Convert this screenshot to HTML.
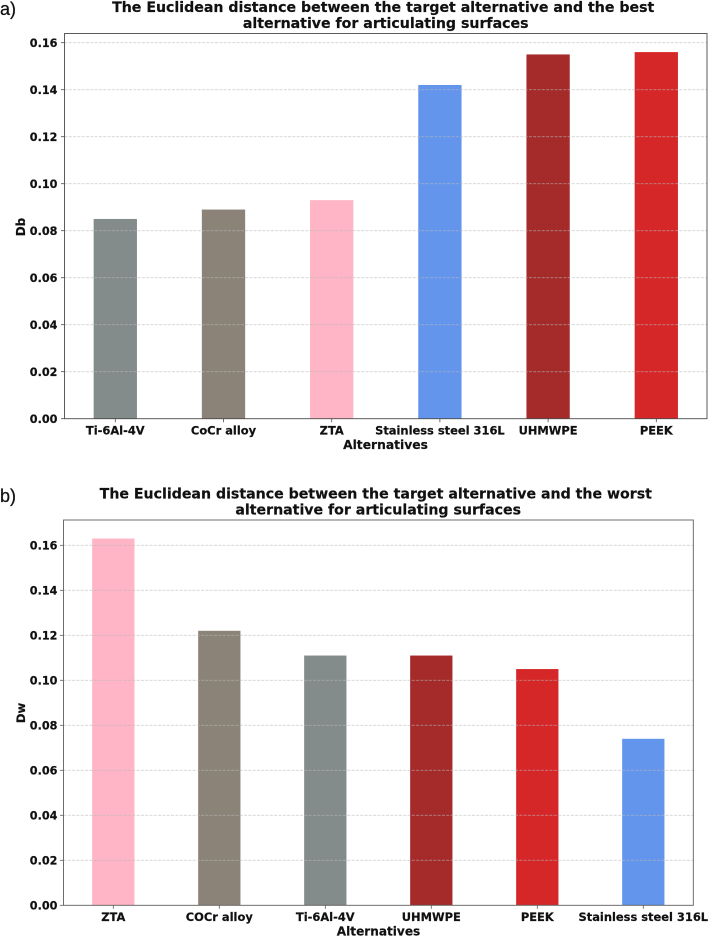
<!DOCTYPE html>
<html lang="en">
<head>
<meta charset="utf-8">
<title>Euclidean distance charts</title>
<style>
  html, body { margin: 0; padding: 0; background: #ffffff; }
  svg { display: block; font-family: "DejaVu Sans", "Liberation Sans", sans-serif; }
  .bold { font-weight: 700; fill: #111111; stroke: #111111; stroke-width: 0.2px; }
  .panel { font-family: "Liberation Sans", sans-serif; font-size: 18px; fill: #111111; stroke: #111111; stroke-width: 0.25px; }
</style>
</head>
<body>
<svg id="figure" width="708" height="937" viewBox="0 0 708 937" xmlns="http://www.w3.org/2000/svg">
  <text class="panel" x="0" y="15">a)</text>
  <text class="bold" x="383.200" y="12" text-anchor="middle" font-size="14.15">The Euclidean distance between the target alternative and the best</text>
  <text class="bold" x="385.700" y="28" text-anchor="middle" font-size="14.15">alternative for articulating surfaces</text>
  <text class="bold" transform="translate(25 227) rotate(-90)" text-anchor="middle" font-size="12">Db</text>
  <text class="bold" x="385.500" y="449" text-anchor="middle" font-size="12.3">Alternatives</text>

  <text class="panel" x="0" y="502">b)</text>
  <text class="bold" x="375.800" y="498.600" text-anchor="middle" font-size="14.15">The Euclidean distance between the target alternative and the worst</text>
  <text class="bold" x="378.200" y="514.600" text-anchor="middle" font-size="14.15">alternative for articulating surfaces</text>
  <text class="bold" transform="translate(25 713) rotate(-90)" text-anchor="middle" font-size="11.6">Dw</text>
  <text class="bold" x="378.500" y="935.500" text-anchor="middle" font-size="12.1">Alternatives</text>
</svg>

<script>
const categoriesA = ["Ti-6Al-4V", "CoCr alloy", "ZTA", "Stainless steel 316L", "UHMWPE", "PEEK"];
const valuesA = [0.085, 0.089, 0.093, 0.142, 0.155, 0.156];
const categoriesB = ["ZTA", "COCr alloy", "Ti-6Al-4V", "UHMWPE", "PEEK", "Stainless steel 316L"];
const valuesB = [0.163, 0.122, 0.111, 0.111, 0.105, 0.074];
const yTickValues = [0, 0.02, 0.04, 0.06, 0.08, 0.10, 0.12, 0.14, 0.16];

const materialColor = {
  "ti-6al-4v": "#838b8b",
  "cocr alloy": "#8b8378",
  "zta": "#ffb5c5",
  "stainless steel 316l": "#6495ed",
  "uhmwpe": "#a52a2a",
  "peek": "#d62728"
};

const SVG_NS = "http://www.w3.org/2000/svg";
const figure = document.getElementById("figure");

function makeEl(tag, attrs) {
  const el = document.createElementNS(SVG_NS, tag);
  Object.keys(attrs).forEach(function (k) { el.setAttribute(k, attrs[k]); });
  return el;
}

function slug(s) {
  return s.toLowerCase().replace(/[^a-z0-9]+/g, "-");
}

function drawChart(prefix, box, categories, values) {
  const yScale = function (v) { return box.zeroY - (v / 0.02) * box.pxPerStep; };
  const xScale = function (i) { return box.firstCenter + i * box.spacing; };

  const frame = makeEl("g", {});
  
  
  figure.appendChild(frame);

  // bars
  categories.forEach(function (cat, i) {
    const top = yScale(values[i]);
    const bar = makeEl("rect", {
      x: xScale(i) - box.barWidth / 2,
      y: top,
      width: box.barWidth,
      height: box.zeroY - top,
      fill: materialColor[cat.toLowerCase()]
    });
    
    
    frame.appendChild(bar);
  });

  // gridlines and y ticks
  yTickValues.forEach(function (t) {
    const y = yScale(t);
    const label = t.toFixed(2);
    if (t > 0) {
      const grid = makeEl("line", {
        x1: box.left, x2: box.right, y1: y, y2: y,
        stroke: "#b8b8b8", "stroke-width": 0.75,
        "stroke-dasharray": "3 1.3", "stroke-opacity": 0.75
      });
      
      
      frame.appendChild(grid);
    }
    const tick = makeEl("line", {
      x1: box.left - 3.5, x2: box.left, y1: y, y2: y,
      stroke: box.spine, "stroke-width": 0.8
    });
    
    
    frame.appendChild(tick);

    const text = makeEl("text", {
      x: 57.4, y: y + 4.1,
      "text-anchor": "end", "font-size": 11.2, "class": "bold"
    });
    text.textContent = label;
    
    
    frame.appendChild(text);
  });

  // x ticks and labels
  categories.forEach(function (cat, i) {
    const x = xScale(i);
    const tick = makeEl("line", {
      x1: x, x2: x, y1: box.zeroY, y2: box.zeroY + 3.5,
      stroke: box.spine, "stroke-width": 0.8
    });
    
    
    frame.appendChild(tick);

    const text = makeEl("text", {
      x: x, y: box.zeroY + 15.6,
      "text-anchor": "middle", "font-size": 11.45, "class": "bold"
    });
    text.textContent = cat;
    
    
    frame.appendChild(text);
  });

  // axes frame
  const border = makeEl("rect", {
    x: box.left, y: box.top,
    width: box.right - box.left, height: box.zeroY - box.top,
    fill: "none", stroke: box.spine, "stroke-width": 0.9
  });
  
  
  frame.appendChild(border);
}

drawChart("chart-a", {
  left: 64.5, right: 707, top: 33.5, zeroY: 418.7, pxPerStep: 47,
  firstCenter: 115.3, spacing: 108.2, barWidth: 43.3, spine: "#4a4a4a"
}, categoriesA, valuesA);

drawChart("chart-b", {
  left: 63.5, right: 693.3, top: 520, zeroY: 905.3, pxPerStep: 45,
  firstCenter: 113.3, spacing: 106, barWidth: 42.3, spine: "#5e5e5e"
}, categoriesB, valuesB);
</script>
</body>
</html>
